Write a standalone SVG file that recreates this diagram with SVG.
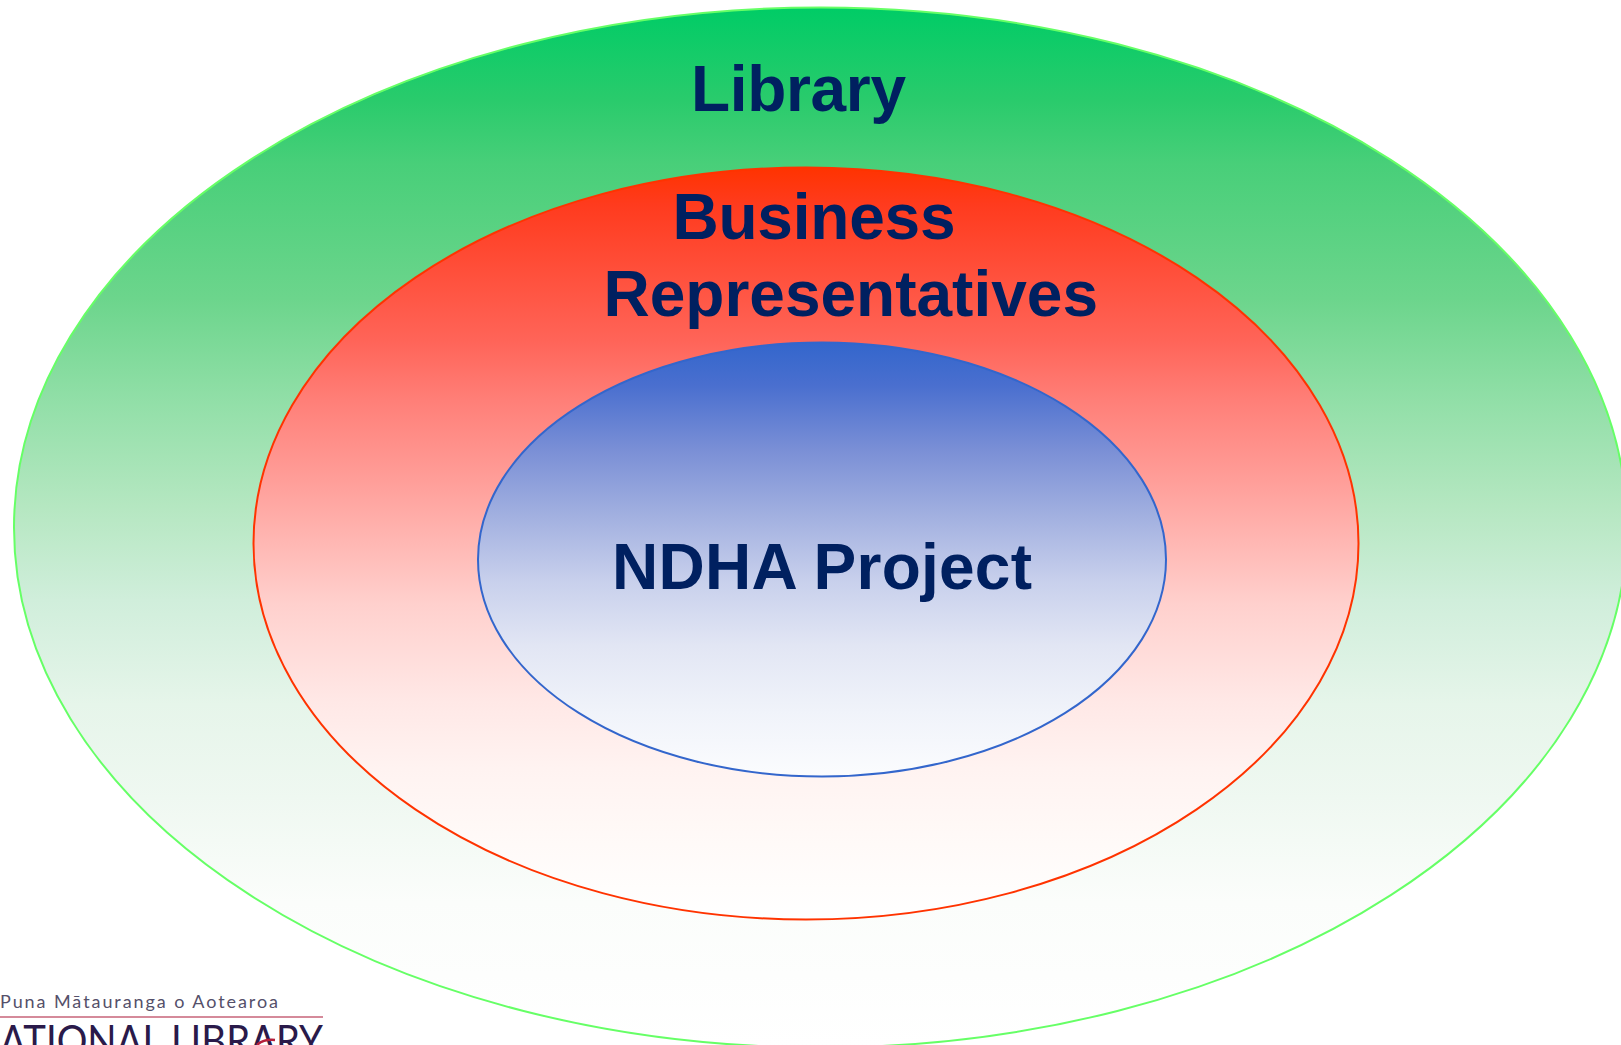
<svg xmlns="http://www.w3.org/2000/svg" width="1621" height="1045" viewBox="0 0 1621 1045">
<style>
.t{font-family:"Liberation Sans",Arial,sans-serif;font-weight:700;font-size:64px;fill:#002060}
</style>
<defs>
<linearGradient id="g" x1="0" y1="0" x2="0" y2="1">
<stop offset="0" stop-color="#00cc66"/><stop offset=".09" stop-color="#2acb6c"/><stop offset=".15" stop-color="#48cf79"/><stop offset=".28" stop-color="#6cd58c"/><stop offset=".38" stop-color="#92dfa8"/><stop offset=".48" stop-color="#b5e7c1"/><stop offset=".57" stop-color="#d0eedb"/><stop offset=".67" stop-color="#e6f5ea"/><stop offset=".76" stop-color="#eff8f1"/><stop offset=".86" stop-color="#fbfdfb"/><stop offset="1" stop-color="#ffffff"/></linearGradient>
<linearGradient id="r" x1="0" y1="0" x2="0" y2="1">
<stop offset="0" stop-color="#ff3300"/><stop offset=".05" stop-color="#ff3b1e"/><stop offset=".23" stop-color="#ff6458"/><stop offset=".31" stop-color="#ff7f78"/><stop offset=".42" stop-color="#ff9f9a"/><stop offset=".58" stop-color="#ffd0cd"/><stop offset=".71" stop-color="#ffe8e6"/><stop offset=".8" stop-color="#fff3f1"/><stop offset=".9" stop-color="#fffaf8"/><stop offset="1" stop-color="#ffffff"/></linearGradient>
<linearGradient id="b" x1="0" y1="0" x2="0" y2="1">
<stop offset="0" stop-color="#3366cc"/><stop offset=".1" stop-color="#4a6fcf"/><stop offset=".25" stop-color="#7b90d6"/><stop offset=".4" stop-color="#a2b0e0"/><stop offset=".55" stop-color="#c8d0ec"/><stop offset=".7" stop-color="#e2e6f4"/><stop offset=".85" stop-color="#f0f3fa"/><stop offset="1" stop-color="#fbfcfe"/></linearGradient>
</defs>
<rect width="1621" height="1045" fill="#fff"/>
<g id="library"><ellipse cx="820.5" cy="527.5" rx="806.5" ry="520" fill="url(#g)" stroke="#66ff66" stroke-width="2"/><text class="t" x="691" y="111" textLength="215">Library</text></g>
<g id="business"><ellipse cx="806" cy="543.5" rx="552.5" ry="376" fill="url(#r)" stroke="#ff3300" stroke-width="2"/><text class="t" x="672.5" y="239" textLength="283">Business</text><text class="t" x="603.5" y="315.5">Representatives</text></g>
<g id="ndha"><ellipse cx="822" cy="559.5" rx="344" ry="217" fill="url(#b)" stroke="#3366cc" stroke-width="2"/><text class="t" x="612" y="589" textLength="420">NDHA Project</text></g>
<g id="logo"><text x="0" y="1007.5" textLength="278" style="font-family:Lato,sans-serif;font-size:18px;fill:#55506a">Puna Mātauranga o Aotearoa</text>
<rect x="0" y="1016" width="323" height="2" fill="#d58a9a"/>
<text x="0" y="1056" textLength="323" lengthAdjust="spacingAndGlyphs" style="font-family:Lato,sans-serif;font-size:43px;fill:#2a1a4a">ATIONAL LIBRARY</text>
<path d="M257 1045Q263 1039 275 1040" fill="none" stroke="#b5203c" stroke-width="2.5"/></g>
<g id="connectors"></g>
</svg>
